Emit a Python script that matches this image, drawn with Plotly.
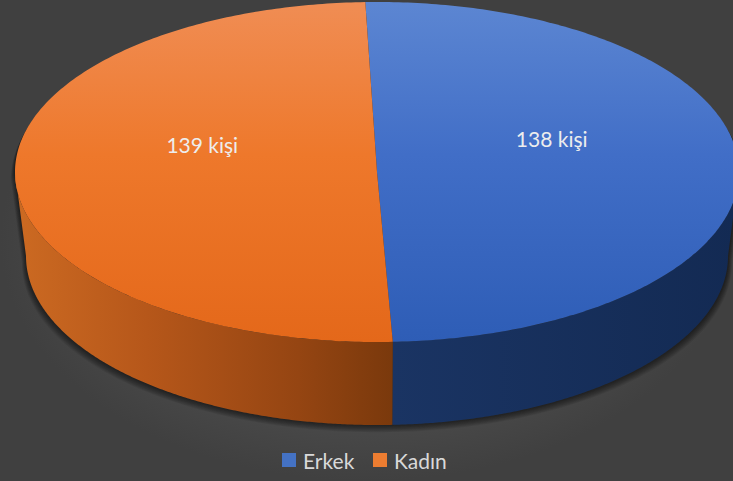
import numpy as np
import plotly.graph_objects as go

# ---- data ----
labels = ["Erkek", "Kadın"]
values = [138, 139]
label_text = ["138 kişi", "139 kişi"]

top_colors = [
    [[0.0, "#5C86D2"], [0.45, "#416EC7"], [1.0, "#2E5DB6"]],
    [[0.0, "#F08D54"], [0.45, "#EE782B"], [1.0, "#E4681A"]],
]
side_colors = [
    [[0.0, "#1A3463"], [1.0, "#132A53"]],
    [[0.0, "#CC6A22"], [0.35, "#B6571A"], [0.75, "#954512"], [1.0, "#7A390C"]],
]
legend_colors = ["#4472C4", "#ED7D31"]

W, H = 733, 481

# projected outline of the disc: upper (top face) and lower (base) ellipses
TOP = dict(cx=377.0, cy=172.0, rx=362.0, ry=170.0)
BASE = dict(cx=377.0, cy=256.0, rx=351.0, ry=169.0)
START = -1.85  # first slice angle, degrees clockwise from 12 o'clock


def ell(e, deg):
    t = np.radians(deg)
    return e["cx"] + e["rx"] * np.sin(t), e["cy"] - e["ry"] * np.cos(t)


def arc(e, a, b, n=240):
    th = np.linspace(a, b, n)
    return ell(e, th)


fig = go.Figure()

# background panel with a soft radial shade
fig.add_trace(go.Scatter(
    x=[0, W, W, 0, 0], y=[0, 0, H, H, 0], mode="none", fill="toself",
    fillgradient=dict(type="radial", colorscale=[[0, "#5A5A5A"], [0.7, "#4B4B4B"], [1, "#404040"]]),
    hoverinfo="skip", showlegend=False))

# soft drop shadow falling below the disc
ux, uy = arc(TOP, -90, 90)
lx, ly = arc(BASE, 90, 270)
sil_x = np.concatenate([ux, lx])
sil_y = np.concatenate([uy, ly])
for k in range(8, 0, -1):
    fig.add_trace(go.Scatter(
        x=TOP["cx"] + (sil_x - TOP["cx"]) * (1 + k / 700.0),
        y=sil_y + k * 0.9,
        mode="none", fill="toself", fillcolor="rgba(0,0,0,0.075)",
        hoverinfo="skip", showlegend=False))

total = float(sum(values))
bounds = [START]
for v in values:
    bounds.append(bounds[-1] + 360.0 * v / total)

# side walls (front half only: 90..270 deg)
for i in range(len(values)):
    a, b = bounds[i], bounds[i + 1]
    lo, hi = max(a, 90.0), min(b, 270.0)
    if hi <= lo:
        continue
    tx, ty = arc(TOP, lo, hi)
    bx, by = arc(BASE, hi, lo)
    xs = np.concatenate([tx, bx, tx[:1]])
    ys = np.concatenate([ty, by, ty[:1]])
    fig.add_trace(go.Scatter(
        x=xs, y=ys, mode="none", fill="toself",
        fillgradient=dict(type="horizontal", colorscale=side_colors[i],
                          start=float(xs.min()), stop=float(xs.max())),
        hoverinfo="skip", showlegend=False))

# top faces
for i in range(len(values)):
    a, b = bounds[i], bounds[i + 1]
    ax_, ay_ = arc(TOP, a, b)
    xs = np.concatenate([[TOP["cx"]], ax_, [TOP["cx"]]])
    ys = np.concatenate([[TOP["cy"]], ay_, [TOP["cy"]]])
    fig.add_trace(go.Scatter(
        x=xs, y=ys, mode="none", fill="toself",
        fillgradient=dict(type="vertical", colorscale=top_colors[i],
                          start=TOP["cy"] - TOP["ry"], stop=TOP["cy"] + TOP["ry"]),
        hoverinfo="skip", showlegend=False))

# value labels at mid-angle of each slice
lab_x, lab_y = [], []
for i in range(len(values)):
    mid = (bounds[i] + bounds[i + 1]) / 2
    t = np.radians(mid)
    lab_x.append(TOP["cx"] + 0.483 * TOP["rx"] * np.sin(t))
    lab_y.append(TOP["cy"] - 0.483 * TOP["ry"] * np.cos(t) - 27)
fig.add_trace(go.Scatter(
    x=lab_x, y=lab_y, mode="text", text=label_text,
    textfont=dict(family="Lato, 'Open Sans', sans-serif", size=21, color="#EDEDED"),
    hoverinfo="skip", showlegend=False))

# legend row: colour key squares + names
FONT = "Lato, 'Open Sans', sans-serif"
legend_left = [282, 373]
legend_y = 460
shapes, annotations = [], []
for name, c, x0 in zip(labels, legend_colors, legend_left):
    shapes.append(dict(type="rect", xref="x", yref="y", x0=x0, x1=x0 + 14,
                       y0=legend_y - 7, y1=legend_y + 7, fillcolor=c, line=dict(width=0)))
    annotations.append(dict(x=x0 + 19, y=legend_y, xref="x", yref="y", text=name,
                            showarrow=False, xanchor="left", yanchor="middle",
                            font=dict(family=FONT, size=21, color="#D9D9D9")))

fig.update_layout(
    width=W, height=H,
    margin=dict(l=0, r=0, t=0, b=0),
    paper_bgcolor="#404040", plot_bgcolor="#404040",
    xaxis=dict(range=[0, W], visible=False, fixedrange=True),
    yaxis=dict(range=[H, 0], visible=False, fixedrange=True),
    showlegend=False,
    shapes=shapes,
    annotations=annotations,
)

fig.write_html("out.html")
